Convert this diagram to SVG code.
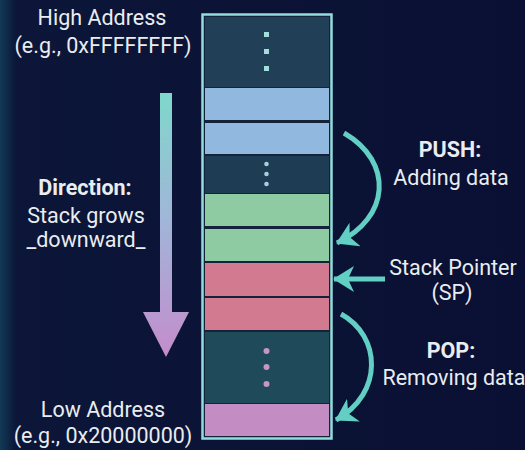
<svg xmlns="http://www.w3.org/2000/svg" width="525" height="450" viewBox="0 0 525 450">
  <defs>
    <linearGradient id="bg" x1="0" y1="0" x2="1" y2="0">
      <stop offset="0" stop-color="#123a55"/>
      <stop offset="0.03" stop-color="#0c1638"/>
      <stop offset="1" stop-color="#0a1033"/>
    </linearGradient>
    <linearGradient id="growGrad" x1="0" y1="93" x2="0" y2="357" gradientUnits="userSpaceOnUse">
      <stop offset="0" stop-color="#7fd8cc"/>
      <stop offset="0.5" stop-color="#a2b4d8"/>
      <stop offset="1" stop-color="#c48ccc"/>
    </linearGradient>
    <marker id="head" markerUnits="userSpaceOnUse" markerWidth="22" markerHeight="27" refX="20" refY="13" orient="auto" viewBox="0 0 22 27">
      <path d="M0,0 L21,13 L0,26 L6,13 Z" fill="#62cec4"/>
    </marker>
    <style>
      .lbl { font-family: Roboto, "Liberation Sans", sans-serif; font-size: 21.5px; fill: #e9edf0; text-anchor: middle; }
      .bold { font-weight: bold; }
      .cell { stroke: none; }
      .dark1 { fill: #213f57; }
      .dark2 { fill: #1e3c53; }
      .dark3 { fill: #1f4a5a; }
      .blue { fill: #91b8de; }
      .green { fill: #8ecba3; }
      .pink { fill: #d27b90; }
      .purple { fill: #c38dc3; }
      .flow { fill: none; stroke: #62cec4; stroke-width: 5; marker-end: url(#head); }
    </style>
  </defs>

  <rect width="525" height="450" fill="url(#bg)"/>

  <!-- stack column -->
  <g id="stack">
    <rect x="202.5" y="14.5" width="129" height="424" fill="#14233a" stroke="#93dcdc" stroke-width="2.5"/>
    <rect class="cell dark1" x="205" y="17" width="124" height="70"/>
    <g fill="#a5dcdc">
      <rect x="264" y="32" width="5" height="5"/>
      <rect x="264" y="49" width="5" height="5"/>
      <rect x="264" y="66" width="5" height="5"/>
    </g>
    <rect class="cell blue" x="205" y="88" width="124" height="32"/>
    <rect class="cell blue" x="205" y="123" width="124" height="31"/>
    <rect class="cell dark2" x="205" y="156" width="124" height="37"/>
    <g fill="#a5d0dc">
      <circle cx="266.5" cy="164" r="2.3"/>
      <circle cx="266.5" cy="174" r="2.3"/>
      <circle cx="266.5" cy="184" r="2.3"/>
    </g>
    <rect class="cell green" x="205" y="194" width="124" height="32"/>
    <rect class="cell green" x="205" y="229" width="124" height="32"/>
    <rect class="cell pink" x="205" y="263" width="124" height="33"/>
    <rect class="cell pink" x="205" y="298" width="124" height="32"/>
    <rect class="cell dark3" x="205" y="332" width="124" height="71"/>
    <g fill="#c696c8">
      <circle cx="266.5" cy="351" r="3"/>
      <circle cx="266.5" cy="367" r="3"/>
      <circle cx="266.5" cy="384" r="3"/>
    </g>
    <rect class="cell purple" x="205" y="404" width="124" height="32"/>
  </g>

  <!-- growth direction arrow -->
  <g id="direction-arrow">
    <rect x="160" y="93" width="12" height="221" fill="url(#growGrad)"/>
    <polygon points="143,312 189,312 166,357" fill="url(#growGrad)"/>
  </g>

  <!-- connectors -->
  <g id="connectors">
    <path class="flow" d="M344,133 C394,162 390,218 337,243"/>
    <path class="flow" d="M385,279 L334,279"/>
    <path class="flow" d="M341,314 C381,336 384,393 336,420"/>
  </g>

  <g id="high-address">
    <text class="lbl" x="102" y="25">High Address</text>
    <text class="lbl" x="103" y="53">(e.g., 0xFFFFFFFF)</text>
  </g>
  <g id="direction-label">
    <text class="lbl bold" x="85" y="195">Direction:</text>
    <text class="lbl" x="86" y="223">Stack grows</text>
    <text class="lbl" x="86" y="247">_downward_</text>
  </g>
  <g id="low-address">
    <text class="lbl" x="103" y="417">Low Address</text>
    <text class="lbl" x="103" y="443">(e.g., 0x20000000)</text>
  </g>
  <g id="push-label">
    <text class="lbl bold" x="450" y="157">PUSH:</text>
    <text class="lbl" x="451" y="185">Adding data</text>
  </g>
  <g id="sp-label">
    <text class="lbl" x="453" y="275">Stack Pointer</text>
    <text class="lbl" x="452" y="300">(SP)</text>
  </g>
  <g id="pop-label">
    <text class="lbl bold" x="451" y="358">POP:</text>
    <text class="lbl" x="454" y="385">Removing data</text>
  </g>
</svg>
